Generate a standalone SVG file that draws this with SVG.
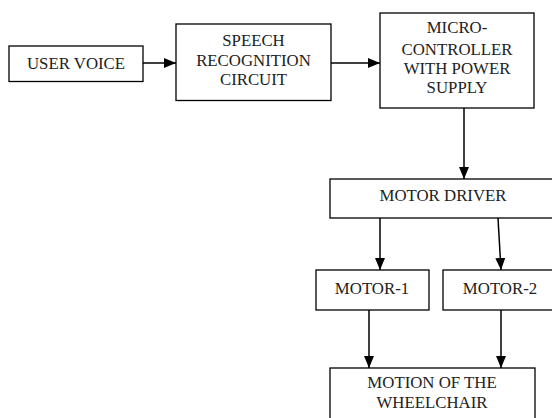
<svg xmlns="http://www.w3.org/2000/svg" width="552" height="418" viewBox="0 0 552 418">
<style>
.box{fill:#fff;stroke:#000;stroke-width:1.3}
.lbl{font-family:"Liberation Serif","Times New Roman",serif;font-size:16.8px;fill:#222;text-anchor:middle}
.conn{stroke:#000;stroke-width:1.5;fill:none}
</style>
<defs>
<marker id="ah" viewBox="0 0 12 10" refX="12" refY="5" markerWidth="12" markerHeight="10" markerUnits="userSpaceOnUse" orient="auto">
<path d="M0,0 L12,5 L0,10 Z" fill="#000"/>
</marker>
</defs>
<rect width="552" height="418" fill="#fff"/>
<g id="connectors">
<line class="conn" x1="143" y1="63" x2="176" y2="63" marker-end="url(#ah)"/>
<line class="conn" x1="331" y1="63" x2="380" y2="63" marker-end="url(#ah)"/>
<line class="conn" x1="464" y1="108" x2="464" y2="179" marker-end="url(#ah)"/>
<line class="conn" x1="380" y1="218" x2="380" y2="270" marker-end="url(#ah)"/>
<line class="conn" x1="498" y1="218" x2="501" y2="270" marker-end="url(#ah)"/>
<line class="conn" x1="369" y1="310" x2="369" y2="368" marker-end="url(#ah)"/>
<line class="conn" x1="501" y1="310" x2="501" y2="368" marker-end="url(#ah)"/>
</g>
<g id="user-voice">
<rect class="box" x="9" y="46" width="134" height="35.5"/>
<text class="lbl" x="76" y="68.5">USER VOICE</text>
</g>
<g id="speech">
<rect class="box" x="176" y="24" width="155" height="76.5"/>
<text class="lbl" x="253.5" y="45.5">SPEECH</text>
<text class="lbl" x="253.5" y="65.5">RECOGNITION</text>
<text class="lbl" x="253.5" y="85">CIRCUIT</text>
</g>
<g id="micro">
<rect class="box" x="380" y="13" width="154" height="95"/>
<text class="lbl" x="457" y="32.5">MICRO-</text>
<text class="lbl" x="457" y="54.5">CONTROLLER</text>
<text class="lbl" x="457" y="74">WITH POWER</text>
<text class="lbl" x="457" y="93">SUPPLY</text>
</g>
<g id="motor-driver">
<rect class="box" x="330" y="179" width="230" height="39"/>
<text class="lbl" x="443" y="200.5">MOTOR DRIVER</text>
</g>
<g id="motor-1">
<rect class="box" x="316" y="270" width="113" height="40"/>
<text class="lbl" x="372" y="293.5">MOTOR-1</text>
</g>
<g id="motor-2">
<rect class="box" x="443" y="270" width="120" height="40"/>
<text class="lbl" x="500" y="293.5">MOTOR-2</text>
</g>
<g id="motion">
<rect class="box" x="330" y="368" width="205" height="60"/>
<text class="lbl" x="432" y="388">MOTION OF THE</text>
<text class="lbl" x="432" y="408">WHEELCHAIR</text>
</g>
</svg>
